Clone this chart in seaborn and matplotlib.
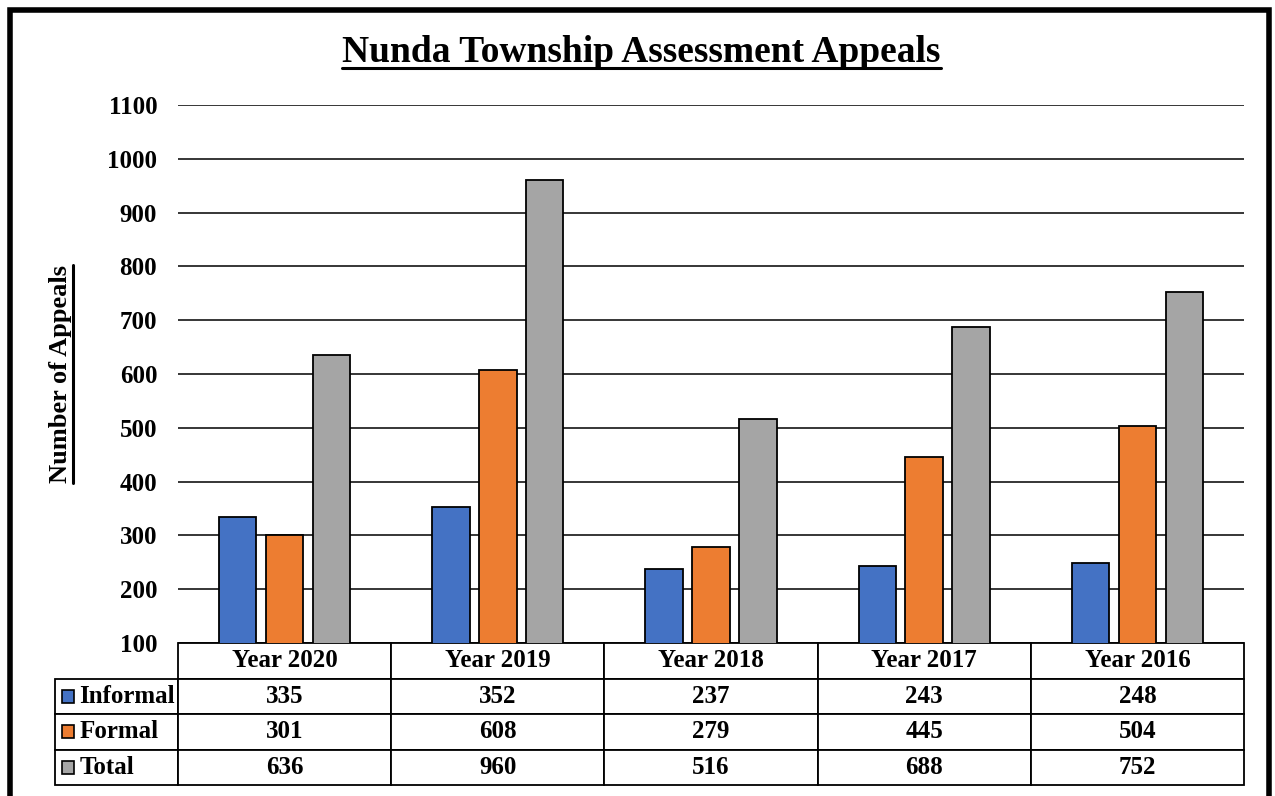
import matplotlib
matplotlib.use("Agg")
import matplotlib.pyplot as plt
from matplotlib.patches import Rectangle
from matplotlib.lines import Line2D
import seaborn as sns
import pandas as pd

years = ["Year 2020", "Year 2019", "Year 2018", "Year 2017", "Year 2016"]
series = ["Informal", "Formal", "Total"]
informal = [335, 352, 237, 243, 248]
formal = [301, 608, 279, 445, 504]
total = [636, 960, 516, 688, 752]
colors = ["#4472C4", "#ED7D31", "#A5A5A5"]
yticks = list(range(100, 1101, 100))

sns.set_theme(style="white")
plt.rcParams["font.family"] = ["Liberation Serif", "DejaVu Serif"]
plt.rcParams["font.weight"] = "bold"
plt.rcParams["text.color"] = "black"
plt.rcParams["ytick.color"] = "black"
plt.rcParams["ytick.labelcolor"] = "black"

df = pd.DataFrame({
    "year": years * 3,
    "series": [s for s in series for _ in years],
    "value": informal + formal + total,
})

fig = plt.figure(figsize=(12.75, 7.96), dpi=100)
ax = fig.add_axes([178 / 1275, 1 - 643 / 796, 1066 / 1275, 538 / 796])

sns.barplot(data=df, x="year", y="value", hue="series", order=years,
            hue_order=series, palette=colors, width=0.66, gap=0.2,
            edgecolor="black", linewidth=1.3, saturation=1, ax=ax, zorder=3)
ax.get_legend().remove()
ax.set_ylim(100, 1100)
ax.set_xlim(-0.5, 4.5)
ax.set_yticks(yticks)
ax.set_yticklabels([str(t) for t in yticks], fontsize=18, fontweight="bold",
                   color="black")
ax.tick_params(axis="y", length=0, pad=15)
ax.set_xticks([])
ax.set_xlabel("")
ax.set_ylabel("")
for s in ax.spines.values():
    s.set_visible(False)
ax.yaxis.grid(True, color="black", linewidth=1.1, zorder=0)
ax.set_axisbelow(True)

# data table under the axes
cell_text = [[str(v) for v in informal], [str(v) for v in formal], [str(v) for v in total]]
tbl = ax.table(cellText=cell_text, rowLabels=series, colLabels=years,
               cellLoc="center", rowLoc="left", bbox=[0, -0.264, 1, 0.264])
tbl.auto_set_font_size(False)
tbl.set_fontsize(18)
tbl._autoColumns = []  # keep a fixed width for the label column
for (r, c), cell in tbl.get_celld().items():
    cell.set_linewidth(1.3)
    cell.set_edgecolor("black")
    cell.get_text().set_fontweight("bold")
    cell.get_text().set_color("black")
    if c == -1:
        cell.set_width(123 / 1066)
        cell.PAD = 0.2

row_h = 0.264 / 4
for i, col in enumerate(colors):
    yc = -row_h * (1.5 + i)
    ax.add_patch(Rectangle((-116 / 1066, yc - 6.5 / 538), 12 / 1066, 13 / 538,
                           transform=ax.transAxes, facecolor=col,
                           edgecolor="black", linewidth=1.2, clip_on=False,
                           zorder=5))

# title and y label, underlined
title = fig.text(0.503, 1 - 62 / 796, "Nunda Township Assessment Appeals",
                 ha="center", va="baseline", fontsize=27, fontweight="bold")
ylab = fig.text(67.5 / 1275, 0.5 * (2 - 643 / 796 - 105 / 796),
                "Number of Appeals", rotation=90, ha="center", va="baseline",
                rotation_mode="anchor", fontsize=19, fontweight="bold")

fig.canvas.draw()
r = fig.canvas.get_renderer()
bb = title.get_window_extent(r).transformed(fig.transFigure.inverted())
uy = 1 - 68 / 796
fig.add_artist(Line2D([bb.x0, bb.x1], [uy, uy], color="black", linewidth=2.2,
                      transform=fig.transFigure))
bb = ylab.get_window_extent(r).transformed(fig.transFigure.inverted())
ux = 73 / 1275
fig.add_artist(Line2D([ux, ux], [bb.y0, bb.y1], color="black", linewidth=2.2,
                      transform=fig.transFigure))

# outer frame
fig.add_artist(Rectangle((9.5 / 1275, -2 / 796), 1259 / 1275, 788 / 796,
                         transform=fig.transFigure, fill=False,
                         edgecolor="black", linewidth=4))

fig.savefig("out.png", dpi=100)
